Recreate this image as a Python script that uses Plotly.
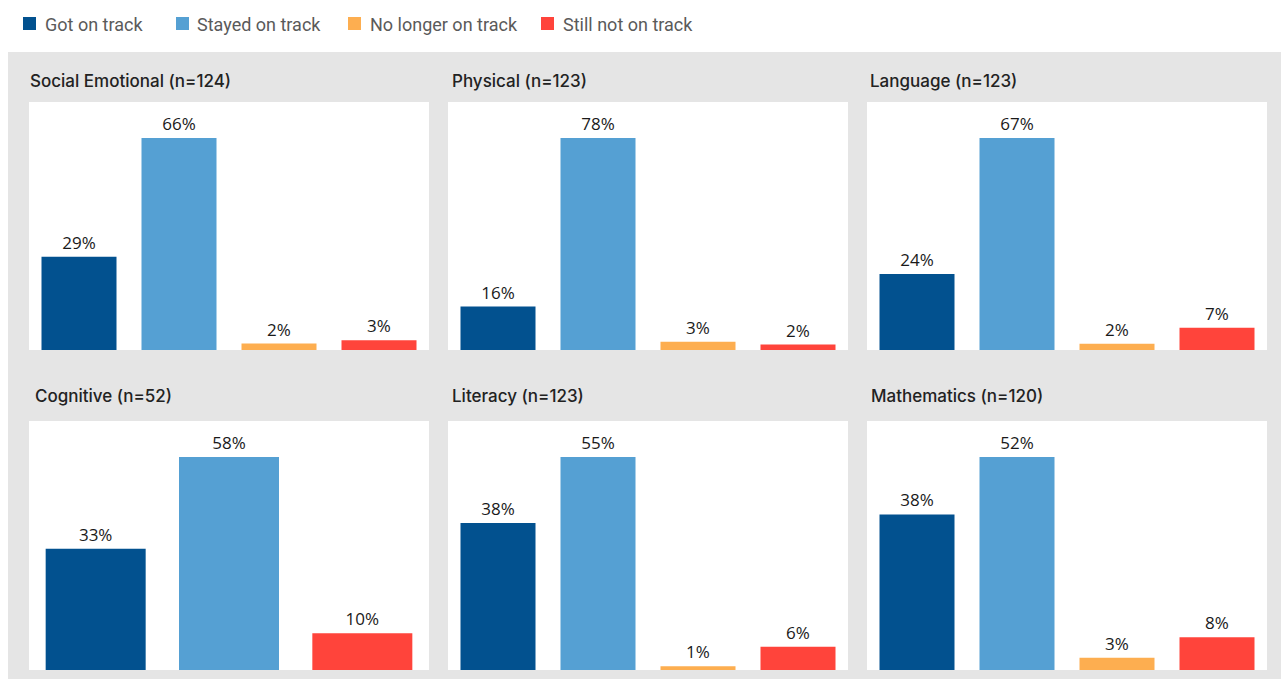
import plotly.graph_objects as go

W, H = 1281, 679

# ---------------- data ----------------
categories = ["Got on track", "Stayed on track", "No longer on track", "Still not on track"]
colors = ["#02518f", "#55a0d3", "#fdae50", "#ff443b"]

panel_titles = ["Social Emotional (n=124)", "Physical (n=123)", "Language (n=123)",
                "Cognitive (n=52)", "Literacy (n=123)", "Mathematics (n=120)"]

social_emotional = [29, 66, 2, 3]
physical = [16, 78, 3, 2]
language = [24, 67, 2, 7]
cognitive = [33, 58, None, 10]   # no "No longer on track" bar
literacy = [38, 55, 1, 6]
mathematics = [38, 52, 3, 8]

panel_values = [social_emotional, physical, language, cognitive, literacy, mathematics]

# ---------------- layout helpers (pixel geometry) ----------------
def px_x(x):
    return x / W

def px_y(y):
    return 1 - y / H

col_x = [(29, 429), (448, 848), (867, 1267)]
row_y = [(102, 350), (421, 670)]
title_x = [[28, 450, 868], [33, 450, 869]]
title_y = [81, 396]

fig = go.Figure()
shapes = []
annotations = []

# grey background panel
shapes.append(dict(type="rect", xref="paper", yref="paper",
                   x0=px_x(8), x1=1.0, y0=0, y1=px_y(52),
                   fillcolor="#e5e5e5", line=dict(width=0), layer="below"))

for i, (title, vals) in enumerate(zip(panel_titles, panel_values)):
    r, c = divmod(i, 3)
    ax = i + 1
    xs = [cat for cat, v in zip(categories, vals) if v is not None]
    ys = [v for v in vals if v is not None]
    cs = [col for col, v in zip(colors, vals) if v is not None]
    fig.add_trace(go.Bar(
        x=xs, y=ys, marker=dict(color=cs, line=dict(width=0)),
        text=[f"{v}%" for v in ys], textposition="outside",
        textfont=dict(family="Open Sans", size=17, color="#1a1a1a"),
        cliponaxis=False, showlegend=False, hoverinfo="x+y",
        xaxis=f"x{ax}", yaxis=f"y{ax}"))
    x0, x1 = col_x[c]
    y0, y1 = row_y[r]
    xkey = "xaxis" if ax == 1 else f"xaxis{ax}"
    ykey = "yaxis" if ax == 1 else f"yaxis{ax}"
    fig.update_layout(**{
        xkey: dict(domain=[px_x(x0), px_x(x1)], anchor=f"y{ax}", showticklabels=False,
                   showgrid=False, zeroline=False, showline=False, ticks="",
                   categoryorder="array", categoryarray=xs, fixedrange=True),
        ykey: dict(domain=[px_y(y1), px_y(y0)], anchor=f"x{ax}", showticklabels=False,
                   showgrid=False, zeroline=False, showline=False, ticks="",
                   range=[0, max(ys) / 0.855], fixedrange=True),
    })
    # white plot area
    shapes.append(dict(type="rect", xref="paper", yref="paper",
                       x0=px_x(x0), x1=px_x(x1), y0=px_y(y1), y1=px_y(y0),
                       fillcolor="white", line=dict(width=0), layer="below"))
    annotations.append(dict(text=title, xref="paper", yref="paper",
                            x=px_x(title_x[r][c]), y=px_y(title_y[r]),
                            xanchor="left", yanchor="middle", showarrow=False,
                            font=dict(family="Inter", size=17, color="#222222", weight=500)))

# legend (drawn manually to match positions)
legend_sq_x = [23, 176, 348, 541]
legend_txt_x = [43, 195, 368, 561]
for cat, col, sx, tx in zip(categories, colors, legend_sq_x, legend_txt_x):
    shapes.append(dict(type="rect", xref="paper", yref="paper",
                       x0=px_x(sx), x1=px_x(sx + 13), y0=px_y(30), y1=px_y(17),
                       fillcolor=col, line=dict(width=0)))
    annotations.append(dict(text=cat, xref="paper", yref="paper",
                            x=px_x(tx), y=px_y(25), xanchor="left", yanchor="middle",
                            showarrow=False,
                            font=dict(family="Roboto", size=18, color="#5a5a5a", weight=400)))

fig.update_layout(
    width=W, height=H, margin=dict(l=0, r=0, t=0, b=0),
    paper_bgcolor="white", plot_bgcolor="rgba(0,0,0,0)",
    bargap=0.25, showlegend=False,
    shapes=shapes, annotations=annotations,
)

fig.write_html("out.html", config={"displayModeBar": False})
